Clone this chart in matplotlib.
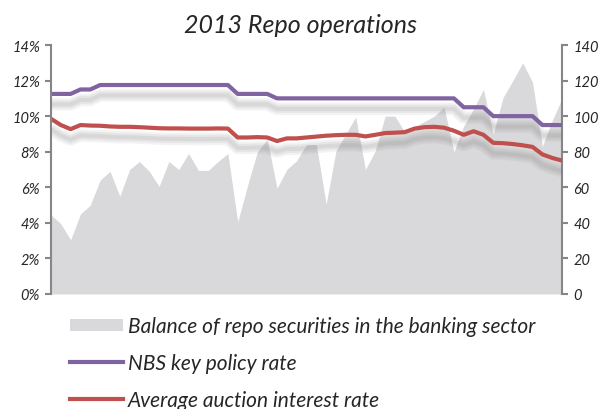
import matplotlib
matplotlib.use('Agg')
import matplotlib.pyplot as plt
import matplotlib.patheffects as pe
from matplotlib.patches import Patch
from matplotlib.lines import Line2D
import numpy as np

# Data (weekly, 2013)
repo_balance = [44.5, 39.5, 30.5, 45, 50, 64, 69, 55, 70, 74.5,
                69, 60.5, 74.5, 70, 79, 69.5, 69.5, 74.5, 79, 40.5,
                61, 80, 87, 59.5, 70, 75, 84, 84, 50.5, 80.5,
                90, 99.5, 70, 80.5, 100, 100, 91, 94, 97, 100,
                105, 80, 94.5, 104, 115, 90, 110.5, 120, 130, 119,
                83, 97.5, 110]
key_rate = [11.25, 11.25, 11.25, 11.5, 11.5, 11.75, 11.75, 11.75, 11.75, 11.75,
            11.75, 11.75, 11.75, 11.75, 11.75, 11.75, 11.75, 11.75, 11.75, 11.25,
            11.25, 11.25, 11.25, 11.0, 11.0, 11.0, 11.0, 11.0, 11.0, 11.0,
            11.0, 11.0, 11.0, 11.0, 11.0, 11.0, 11.0, 11.0, 11.0, 11.0,
            11.0, 11.0, 10.5, 10.5, 10.5, 10.0, 10.0, 10.0, 10.0, 10.0,
            9.5, 9.5, 9.5]
auction_rate = [9.85, 9.5, 9.27, 9.5, 9.47, 9.46, 9.42, 9.4, 9.4, 9.38,
                9.35, 9.32, 9.31, 9.31, 9.3, 9.3, 9.3, 9.31, 9.3, 8.8,
                8.8, 8.82, 8.8, 8.6, 8.75, 8.75, 8.8, 8.85, 8.9, 8.93,
                8.95, 8.95, 8.86, 8.95, 9.05, 9.07, 9.1, 9.3, 9.38, 9.4,
                9.35, 9.18, 8.95, 9.15, 8.95, 8.5, 8.48, 8.43, 8.36, 8.27,
                7.85, 7.65, 7.5]
weeks = np.arange(len(repo_balance))

# Colors
c_area = '#d9d9db'
c_purple = '#8064a2'
c_red = '#c0504d'
c_axis = '#868686'
c_text = '#262626'

font = ['Lato', 'DejaVu Sans']

fig = plt.figure(figsize=(6.02, 4.10), dpi=100)
ax = fig.add_axes([0.0847, 0.2805, 0.8489, 0.6073])
ax2 = ax.twinx()

# area on right axis, lines on left axis drawn on top
ax2.fill_between(weeks, repo_balance, 0, color=c_area, lw=0)
ax.set_zorder(ax2.get_zorder() + 1)
ax.patch.set_visible(False)

# soft drop shadow below the lines
shadow = [pe.SimpleLineShadow(offset=(0, -7.5), shadow_color='#808080', alpha=0.09, linewidth=9),
          pe.SimpleLineShadow(offset=(0, -7.5), shadow_color='#808080', alpha=0.11, linewidth=6),
          pe.SimpleLineShadow(offset=(0, -7.5), shadow_color='#808080', alpha=0.13, linewidth=3),
          pe.Normal()]

ax.plot(weeks, key_rate, color=c_purple, lw=3, solid_joinstyle='round',
        solid_capstyle='butt', path_effects=shadow)
ax.plot(weeks, auction_rate, color=c_red, lw=3, solid_joinstyle='round',
        solid_capstyle='butt', path_effects=shadow)

ax.set_xlim(0, len(weeks) - 1)
ax.set_ylim(0, 14)
ax2.set_ylim(0, 140)
ax.set_yticks(np.arange(0, 15, 2))
ax.set_yticklabels([f'{v}%' for v in range(0, 15, 2)])
ax2.set_yticks(np.arange(0, 141, 20))
ax.set_xticks([])

for a in (ax, ax2):
    for s in ('top', 'bottom'):
        a.spines[s].set_visible(False)
ax.spines['right'].set_visible(False)
ax2.spines['left'].set_visible(False)
ax.spines['left'].set_color(c_axis)
ax2.spines['right'].set_color(c_axis)
ax.spines['left'].set_linewidth(1.5)
ax2.spines['right'].set_linewidth(1.5)

ax.tick_params(axis='y', colors=c_axis, length=4, width=1.5, labelcolor=c_text, pad=4)
ax2.tick_params(axis='y', colors=c_axis, length=4, width=1.5, labelcolor=c_text, pad=4)
for lab in ax.get_yticklabels() + ax2.get_yticklabels():
    lab.set_fontstyle('italic')
    lab.set_fontsize(10.5)
    lab.set_family(font)

fig.text(0.5, 0.939, '2013 Repo operations', ha='center', va='center',
         fontsize=18, fontstyle='italic', color=c_text, family=font)

handles = [Patch(facecolor=c_area, edgecolor='none'),
           Line2D([], [], color=c_purple, lw=3),
           Line2D([], [], color=c_red, lw=3)]
labels = ['Balance of repo securities in the banking sector',
          'NBS key policy rate',
          'Average auction interest rate']
fig.legend(handles, labels, loc='upper left', bbox_to_anchor=(0.116, 0.226),
           frameon=False, handlelength=2.55, handleheight=0.58, handletextpad=0.25,
           labelspacing=0.80, borderpad=0, borderaxespad=0,
           prop={'family': font, 'style': 'italic', 'size': 15},
           labelcolor=c_text)

fig.savefig('out.png', dpi=100)
